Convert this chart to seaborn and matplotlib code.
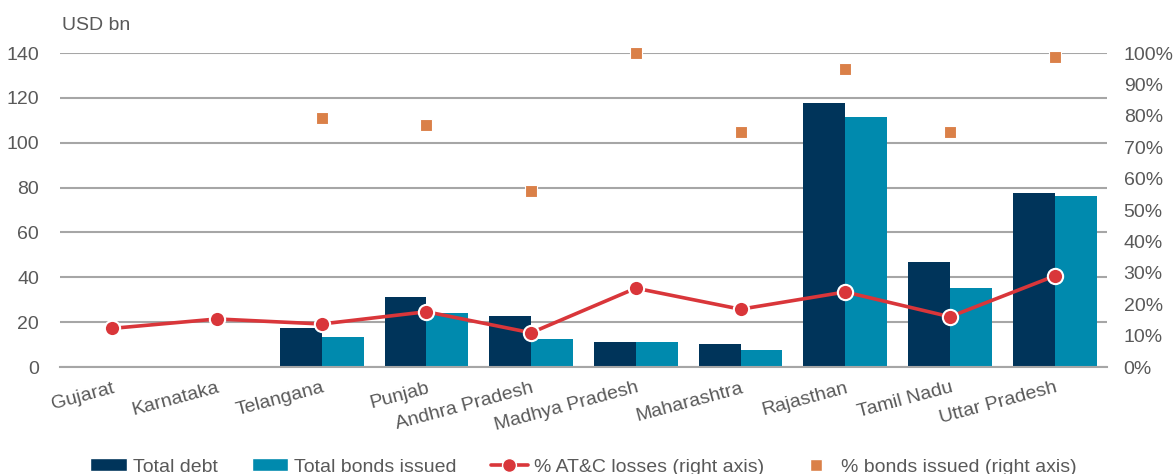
import numpy as np
import pandas as pd
import matplotlib
matplotlib.use("Agg")
import matplotlib.pyplot as plt
from matplotlib.patches import Patch
from matplotlib.lines import Line2D
from matplotlib.ticker import FixedLocator
import seaborn as sns

states = ["Gujarat", "Karnataka", "Telangana", "Punjab", "Andhra Pradesh",
          "Madhya Pradesh", "Maharashtra", "Rajasthan", "Tamil Nadu", "Uttar Pradesh"]
total_debt = [0.5, 0.5, 17.2, 31.3, 22.7, 11.3, 10.3, 117.6, 46.7, 77.4]
total_bonds = [0.5, 0.5, 13.5, 23.9, 12.5, 11.3, 7.6, 111.3, 35.1, 76.4]
atc_losses = [12.3, 15.3, 13.7, 17.6, 10.9, 25.1, 18.4, 23.9, 16.0, 29.0]
pct_bonds = [np.nan, np.nan, 79.2, 77.1, 56.1, 100.0, 74.9, 94.9, 74.8, 98.8]
left_ticks = [0, 20, 40, 60, 80, 100, 120, 140]
right_ticks = [0, 10, 20, 30, 40, 50, 60, 70, 80, 90, 100]

C_DEBT = "#00345A"
C_BONDS = "#008AAE"
C_LINE = "#D9363A"
C_SQ = "#DA8048"
C_TEXT = "#595959"
C_GRID = "#A6A6A6"
FS = 14

sns.set_theme(style="white")
plt.rcParams["font.family"] = ["Liberation Sans", "DejaVu Sans"]
plt.rcParams["text.color"] = C_TEXT
plt.rcParams["axes.labelcolor"] = C_TEXT
plt.rcParams["xtick.color"] = C_TEXT
plt.rcParams["ytick.color"] = C_TEXT

df = pd.DataFrame({
    "state": states * 2,
    "value": total_debt + total_bonds,
    "series": ["Total debt"] * len(states) + ["Total bonds issued"] * len(states),
})

fig = plt.figure(figsize=(11.74, 4.74), dpi=100)
ax = fig.add_axes([60 / 1174, 1 - 367 / 474, (1107 - 60) / 1174, (367 - 53) / 474])

sns.barplot(data=df, x="state", y="value", hue="series", order=states,
            palette=[C_DEBT, C_BONDS], width=0.8, gap=0, ax=ax,
            edgecolor="none", linewidth=0, legend=False, saturation=1)

ax.set_ylim(0, 140)
ax.set_xlim(-0.5, len(states) - 0.5)
ax.set_yticks(left_ticks)
ax.yaxis.grid(True, color=C_GRID, linewidth=1.5)
ax.set_axisbelow(True)
for s in ["top", "left", "right"]:
    ax.spines[s].set_visible(False)
ax.spines["bottom"].set_color(C_GRID)
ax.spines["bottom"].set_linewidth(1.5)
ax.set_xlabel("")
ax.set_ylabel("")
ax.tick_params(axis="y", length=0, labelsize=FS, pad=15)
ax.tick_params(axis="x", which="major", length=0, labelsize=FS, pad=9)
ax.xaxis.set_minor_locator(FixedLocator(np.arange(len(states) + 1) - 0.5))
ax.tick_params(axis="x", which="minor", length=6, width=1.5, color=C_GRID, direction="out")
for lbl in ax.get_xticklabels():
    lbl.set_rotation(15)
    lbl.set_ha("right")
    lbl.set_rotation_mode("anchor")

ax2 = ax.twinx()
pos = np.arange(len(states))
sns.lineplot(x=pos, y=atc_losses, ax=ax2, color=C_LINE, linewidth=2.6, marker="o",
             markersize=11, markerfacecolor=C_LINE, markeredgecolor="white",
             markeredgewidth=1.5, sort=False, zorder=4)
sns.scatterplot(x=pos, y=pct_bonds, ax=ax2, color=C_SQ, marker="s", s=75,
                edgecolor="white", linewidth=0.8, zorder=5)
for coll in ax2.collections:
    coll.set_clip_on(False)
ax2.set_ylim(0, 100)
ax2.set_xlim(-0.5, len(states) - 0.5)
ax2.set_yticks(right_ticks)
ax2.set_yticklabels([f"{t}%" for t in right_ticks])
ax2.tick_params(axis="y", length=0, labelsize=FS, pad=12)
for s in ["top", "left", "right", "bottom"]:
    ax2.spines[s].set_visible(False)
ax2.grid(False)
ax2.set_ylabel("")

fig.text(62 / 1174, 1 - 25 / 474, "USD bn", fontsize=FS, color=C_TEXT, va="center", ha="left")

handles = [
    Patch(facecolor=C_DEBT, label="Total debt"),
    Patch(facecolor=C_BONDS, label="Total bonds issued"),
    Line2D([], [], color=C_LINE, linewidth=2.6, marker="o", markersize=10,
           markerfacecolor=C_LINE, markeredgecolor="white", label="% AT&C losses (right axis)"),
    Line2D([], [], color="none", marker="s", markersize=8, markerfacecolor=C_SQ,
           markeredgecolor="white", label="% bonds issued (right axis)"),
]
fig.legend(handles=handles, loc="center", bbox_to_anchor=(583 / 1174, 1 - 467 / 474),
           ncol=4, frameon=False, fontsize=FS, handlelength=1.9, handleheight=0.6,
           columnspacing=1.75, handletextpad=0.3)

fig.savefig("out.png", dpi=100)
